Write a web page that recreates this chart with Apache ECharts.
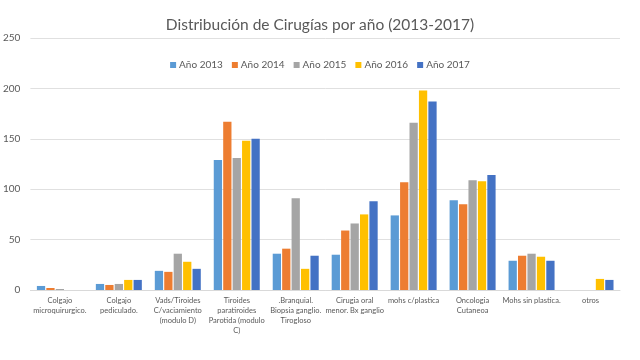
<!DOCTYPE html>
<html>
<head>
<meta charset="utf-8">
<script src="https://cdn.jsdelivr.net/npm/echarts@6/dist/echarts.min.js"></script>
<style>html,body{margin:0;padding:0;background:#fff}#c{width:640px;height:360px}</style>
</head>
<body>
<div id="c"></div>
<script>
var categories = [
  "Colgajo\nmicroquirurgico.",
  "Colgajo\npediculado.",
  "Vads/Tiroides\nC/vaciamiento\n(modulo D)",
  "Tiroides\nparatiroides\nParotida (modulo\nC)",
  ".Branquial.\nBiopsia ganglio.\nTirogloso",
  "Cirugia oral\nmenor. Bx ganglio",
  "mohs c/plastica",
  "Oncologia\nCutaneoa",
  "Mohs sin plastica.",
  "otros"
];
var seriesNames = ["Año 2013", "Año 2014", "Año 2015", "Año 2016", "Año 2017"];
var y2013 = [4, 6, 19, 129, 36, 35, 74, 89, 29, 0];
var y2014 = [2, 5, 18, 167, 41, 59, 107, 85, 34, 0];
var y2015 = [1, 6, 36, 131, 91, 66, 166, 109, 36, 0];
var y2016 = [0, 10, 28, 148, 21, 75, 198, 108, 33, 11];
var y2017 = [0, 10, 21, 150, 34, 88, 187, 114, 29, 10];
var yTicks = [0, 50, 100, 150, 200, 250];

var colors = ["#5B9BD5", "#ED7D31", "#A5A5A5", "#FFC000", "#4472C4"];
var allData = [y2013, y2014, y2015, y2016, y2017];
var font = "Lato, 'Open Sans', sans-serif";

var chart = echarts.init(document.getElementById('c'));
chart.setOption({
  animation: false,
  color: colors,
  title: {
    text: "Distribución de Cirugías por año (2013-2017)",
    left: 'center',
    top: 12,
    textStyle: { fontFamily: font, fontSize: 15.5, fontWeight: 'normal', color: '#595959' }
  },
  legend: {
    data: seriesNames,
    top: 55,
    left: 'center',
    itemWidth: 6,
    itemHeight: 6,
    itemGap: 9,
    icon: 'rect',
    textStyle: { fontFamily: font, fontSize: 10, color: '#595959', padding: [0,0,0,-2] }
  },
  grid: { left: 30, right: 20, top: 38, bottom: 70 },
  xAxis: {
    type: 'category',
    data: categories,
    axisTick: { show: false },
    axisLine: { lineStyle: { color: '#d9d9d9' } },
    axisLabel: { interval: 0, fontFamily: font, fontSize: 7.5, color: '#595959', lineHeight: 10, margin: 6 }
  },
  yAxis: {
    type: 'value',
    min: 0, max: 250, interval: 50,
    axisLine: { show: false },
    axisTick: { show: false },
    splitLine: { lineStyle: { color: '#e0e0e0' } },
    axisLabel: { fontFamily: font, fontSize: 10, color: '#595959', margin: 10,
      formatter: function (v) { return yTicks.indexOf(v) >= 0 ? String(v) : ''; } }
  },
  series: seriesNames.map(function (n, i) {
    return { name: n, type: 'bar', data: allData[i], barGap: '14%', barCategoryGap: '22%' };
  })
});
</script>
</body>
</html>
